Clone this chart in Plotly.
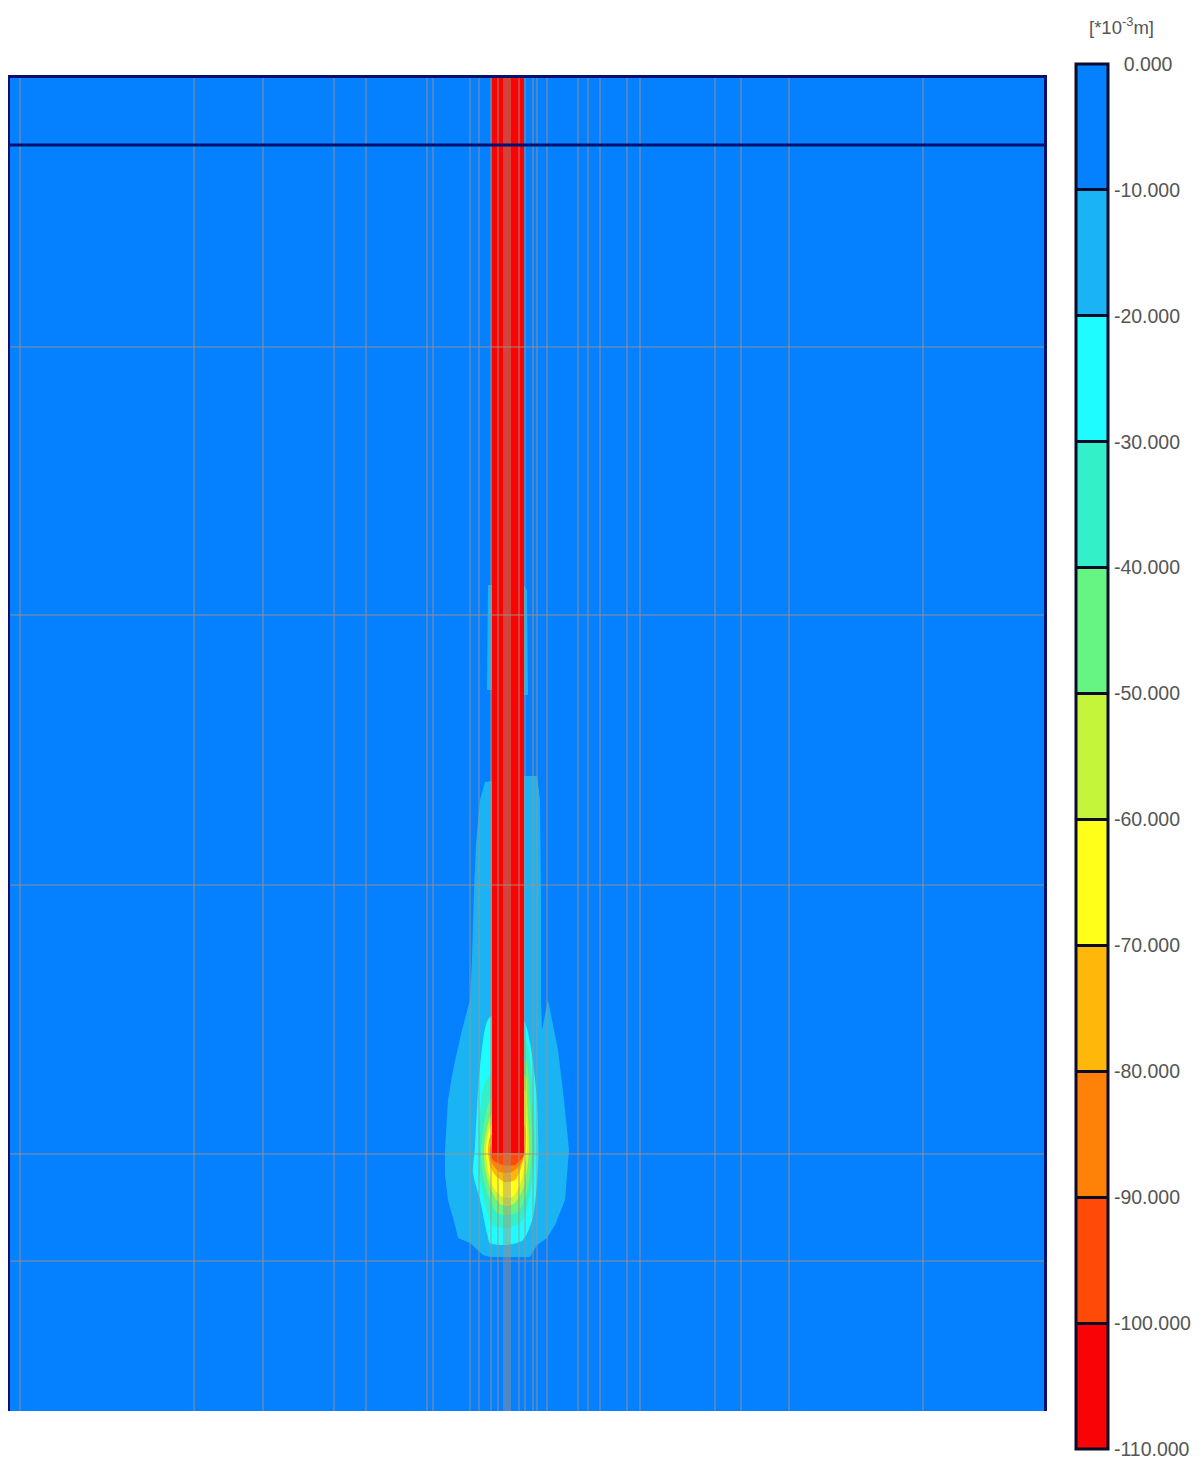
import plotly.graph_objects as go

W, H = 1195, 1453   # the page body adds an 8 px margin on the top and left
PAD = 8
X0, X1, Y0, Y1 = 10, 1044, 78, 1411
BAR_TOP, BAR_BOTTOM, BAR_LEFT = 64, 1449, 1075.5

levels = [0, -10, -20, -30, -40, -50, -60, -70, -80, -90, -100, -110]
level_labels = ["\u20020.000", "-10.000", "-20.000", "-30.000", "-40.000", "-50.000",
                "-60.000", "-70.000", "-80.000", "-90.000", "-100.000", "-110.000"]
band_colors = ["#0580ff", "#1ab4f5", "#1ffcff", "#33f0c8", "#66f582", "#c4f53a",
               "#ffff1a", "#ffb80a", "#ff8208", "#ff4a08", "#f80404"]

mesh_x = [20, 194, 263, 334, 366, 427, 433, 470, 479, 491, 498, 504, 506, 508, 510, 519, 525,
          533, 537, 547, 578, 588, 600, 627, 640, 715, 741, 789, 923]
mesh_y = [347, 615, 885, 1154, 1261]
excavation_y = 145

band10_left_x = [488, 492, 492, 487]
band10_left_y = [585, 585, 690, 690]
band10_right_x = [524, 527, 528, 524]
band10_right_y = [585, 590, 695, 695]
band10_x = [485, 480, 476, 474, 472, 470, 462, 453, 448, 445, 445, 448, 455, 458, 470, 483, 490,
            530, 537, 547, 555, 565, 569, 564, 558, 548, 542, 541, 541, 540, 537, 525]
band10_y = [782, 800, 845, 890, 960, 1000, 1030, 1070, 1100, 1150, 1175, 1200, 1225, 1238, 1243, 1255, 1257,
            1257, 1245, 1238, 1225, 1200, 1150, 1100, 1050, 1000, 1030, 1000, 900, 800, 776, 776]
band20_x = [490, 480, 475, 473, 480, 487, 490, 507, 523, 533, 538, 537, 530, 523]
band20_y = [1017, 1067, 1147, 1173, 1200, 1233, 1243, 1245, 1240, 1217, 1167, 1100, 1043, 1020]
band30_x = [485, 479, 480, 485, 493, 507, 521, 530, 535, 532, 525]
band30_y = [1083, 1147, 1180, 1205, 1225, 1228, 1222, 1195, 1150, 1083, 1040]
band40_x = [490, 481, 483, 488, 497, 507, 518, 527, 532, 530, 525]
band40_y = [1100, 1150, 1175, 1195, 1213, 1215, 1212, 1192, 1150, 1100, 1060]
band50_x = [491, 484, 486, 491, 500, 507, 515, 524, 529, 527, 525]
band50_y = [1115, 1150, 1172, 1190, 1204, 1206, 1203, 1186, 1150, 1100, 1075]
band60_x = [491, 486, 488, 493, 503, 513, 521, 527, 526, 525]
band60_y = [1125, 1150, 1170, 1187, 1197, 1197, 1182, 1150, 1110, 1090]
band70_x = [491, 488, 490, 495, 505, 515, 521, 525, 524]
band70_y = [1135, 1150, 1165, 1175, 1182, 1180, 1168, 1150, 1125]
band80_x = [491, 490, 493, 500, 512, 520, 524, 524]
band80_y = [1145, 1155, 1165, 1172, 1172, 1165, 1155, 1145]
band90_x = [491, 493, 503, 515, 523, 524]
band90_y = [1153, 1160, 1165, 1165, 1157, 1153]
band100_x = [492, 524, 524, 492]
band100_y = [78, 78, 1153, 1153]

bands = [
    (band10_left_x, band10_left_y, 1, "linear"), (band10_right_x, band10_right_y, 1, "linear"),
    (band10_x, band10_y, 1, "linear"), (band20_x, band20_y, 2, "spline"), (band30_x, band30_y, 3, "spline"),
    (band40_x, band40_y, 4, "spline"), (band50_x, band50_y, 5, "spline"), (band60_x, band60_y, 6, "spline"),
    (band70_x, band70_y, 7, "spline"), (band80_x, band80_y, 8, "spline"), (band90_x, band90_y, 9, "spline"),
    (band100_x, band100_y, 10, "linear"),
]


def fx(px):
    return (px - PAD) / W


def fy(px):
    return 1 - (px - PAD) / H


n = len(band_colors)
colorscale = []
for i, c in enumerate(reversed(band_colors)):
    colorscale += [[i / n, c], [(i + 1) / n, c]]

fig = go.Figure()
fig.add_trace(go.Heatmap(
    x=[X0, X1], y=[Y0, Y1], z=[[-5, -5], [-5, -5]], zmin=-110, zmax=0,
    colorscale=colorscale, hoverinfo="skip",
    colorbar=dict(
        x=fx(BAR_LEFT), xanchor="left", xpad=0, ypad=0,
        y=fy(BAR_TOP), yanchor="top",
        lenmode="pixels", len=BAR_BOTTOM - BAR_TOP,
        thicknessmode="pixels", thickness=32,
        outlinecolor="#0b0b2a", outlinewidth=3, borderwidth=0,
        tickmode="array", tickvals=levels, ticktext=level_labels,
        ticks="inside", ticklen=32, tickwidth=2.5, tickcolor="#0b0b2a",
        tickfont=dict(family="Liberation Sans", size=19.5, color="#555555"),
    ),
))

for xs, ys, idx, shape in bands:
    line = dict(width=0, shape=shape)
    if shape == "spline":
        line["smoothing"] = 0.7
    fig.add_trace(go.Scatter(x=xs + xs[:1], y=ys + ys[:1], mode="lines", fill="toself",
                             fillcolor=band_colors[idx], line=line,
                             hoverinfo="skip", showlegend=False))

vx, vy = [], []
for x in mesh_x:
    vx += [x, x, None]
    vy += [Y0, Y1 + 3, None]
hx, hy = [], []
for y in mesh_y:
    hx += [X0, X1, None]
    hy += [y, y, None]
mesh_style = dict(color="rgba(165,145,130,0.6)", width=1.5)
fig.add_trace(go.Scatter(x=vx, y=vy, mode="lines", line=mesh_style, hoverinfo="skip",
                         showlegend=False, cliponaxis=False))
fig.add_trace(go.Scatter(x=hx, y=hy, mode="lines", line=mesh_style, hoverinfo="skip",
                         showlegend=False))
fig.add_trace(go.Scatter(x=[X0, X1], y=[excavation_y, excavation_y], mode="lines",
                         line=dict(color="#06106e", width=3), hoverinfo="skip", showlegend=False))

fig.add_annotation(x=fx(1121), y=fy(26), xref="paper", yref="paper", showarrow=False,
                   xanchor="center", yanchor="middle",
                   text="[*10<sup>-3</sup>m]",
                   font=dict(family="Liberation Sans", size=18.5, color="#555555"))

axis_common = dict(showgrid=False, zeroline=False, showticklabels=False, ticks="",
                   showline=True, linecolor="#06106e", linewidth=3)
fig.update_layout(
    width=W, height=H, margin=dict(l=0, r=0, t=0, b=0, autoexpand=False),
    paper_bgcolor="white", plot_bgcolor="white", showlegend=False,
    xaxis=dict(domain=[fx(X0), fx(X1)], range=[X0, X1], side="top", **axis_common),
    yaxis=dict(domain=[fy(Y1), fy(Y0)], range=[Y1, Y0], mirror=True, **axis_common),
)
fig.write_html("out.html")
